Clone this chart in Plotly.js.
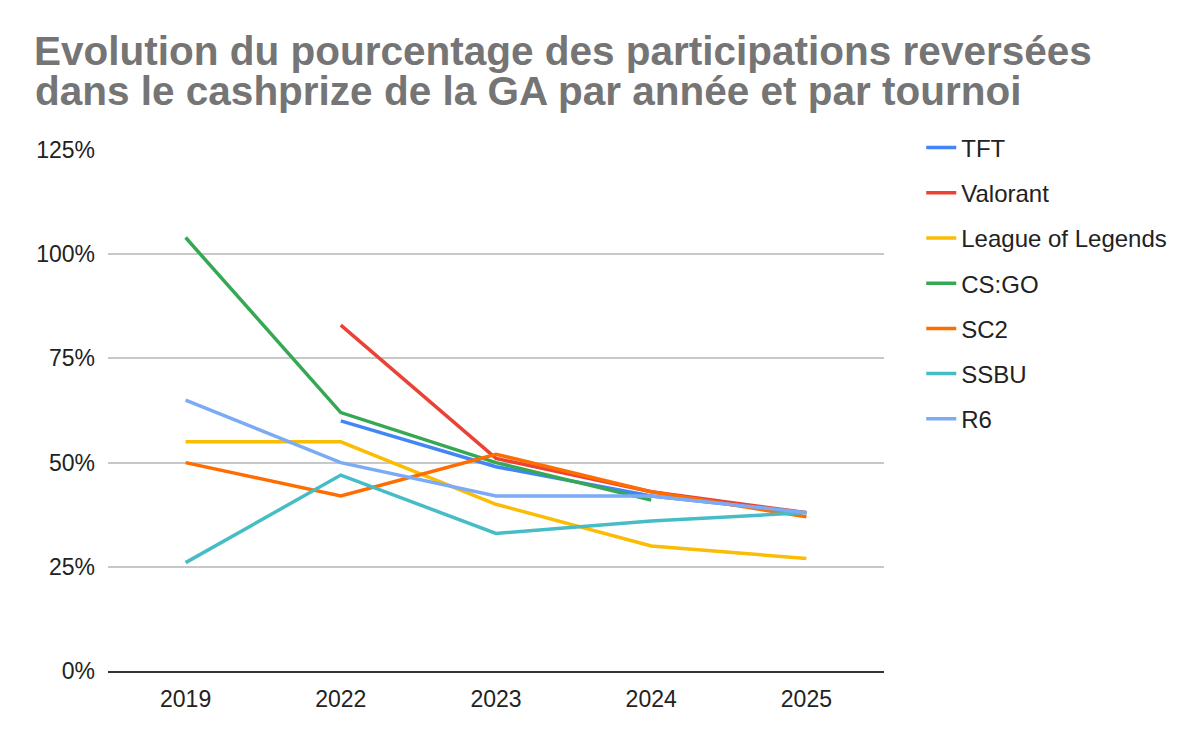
<!DOCTYPE html>
<html>
<head>
<meta charset="utf-8">
<script src="https://cdn.plot.ly/plotly-3.0.1.min.js"></script>
<style>
  html, body { margin: 0; padding: 0; background: #fff; }
  #plot { width: 1200px; height: 734px; }
</style>
</head>
<body>
<div id="plot"></div>
<script>
// Years on the x axis
const years = ["2019", "2022", "2023", "2024", "2025"]

// Percentage of entry fees paid back into the cashprize, per tournament (null = no tournament)
const tft      = [null, 60, 49, 42, 38]
const valorant = [null, 83, 51, 43, 38]
const lol      = [55, 55, 40, 30, 27]
const csgo     = [104, 62, 50, 41, null]
const sc2      = [50, 42, 52, 43, 37]
const ssbu     = [26, 47, 33, 36, 38]
const r6       = [65, 50, 42, 42, 38]

const names  = ["TFT", "Valorant", "League of Legends", "CS:GO", "SC2", "SSBU", "R6"]
const series = [tft, valorant, lol, csgo, sc2, ssbu, r6]
const colors = ["#4285F4", "#EA4335", "#FBBC04", "#34A853", "#FF6D01", "#46BDC6", "#7BAAF7"]

const y_ticks = [0, 25, 50, 75, 100, 125]
const y_tick_labels = ["0%", "25%", "50%", "75%", "100%", "125%"]

const font_family = "Arial, 'Liberation Sans', sans-serif"

let data = []
for (let i = 0; i < series.length; i++) {
    data.push({
        type: "scatter", mode: "lines",
        x: years, y: series[i], name: names[i],
        legendgroup: names[i],
        connectgaps: false,
        line: { color: colors[i], width: 3.5 },
        hoverinfo: "skip"
    })
}

const layout = {
    width: 1200, height: 734,
    paper_bgcolor: "#ffffff", plot_bgcolor: "#ffffff",
    margin: { l: 108, r: 316, t: 150, b: 63 },
    font: { family: font_family, color: "#222222", size: 23 },
    title: {
        text: "Evolution du pourcentage des participations reversées",
        font: { family: font_family, size: 40.5, color: "#757575", weight: "bold" },
        xref: "container", x: 34 / 1200, xanchor: "left",
        yref: "container", y: 1 - 51 / 734, yanchor: "middle"
    },
    annotations: [{
        // second title line, tighter line spacing than plotly's <br>
        text: "dans le cashprize de la GA par année et par tournoi",
        font: { family: font_family, size: 40.5, color: "#757575", weight: "bold" },
        showarrow: false,
        xref: "paper", x: (33 - 108) / 776, xanchor: "left",
        yref: "paper", y: (671 - 91) / 521, yanchor: "middle"
    }],
    xaxis: {
        type: "category",
        range: [-0.5, 4.5],
        showgrid: false, zeroline: false,
        showline: true, linecolor: "#333333", linewidth: 2,
        ticks: "", ticklabelstandoff: 6,
        tickfont: { size: 23, color: "#222222" },
        fixedrange: true
    },
    yaxis: {
        range: [0, 125],
        tickmode: "array",
        tickvals: y_ticks,
        ticktext: y_tick_labels,
        showgrid: true, gridcolor: "#c8c8c8", gridwidth: 2,
        zeroline: false, showline: false,
        ticks: "", ticklabelstandoff: 12,
        tickfont: { size: 23, color: "#222222" },
        fixedrange: true
    },
    showlegend: true,
    legend: {
        x: 1.048, xanchor: "left",
        y: 1.047, yanchor: "top",
        font: { size: 24, color: "#222222" },
        tracegroupgap: 11,
        bgcolor: "rgba(0,0,0,0)"
    }
}

Plotly.newPlot("plot", data, layout, { displayModeBar: false, staticPlot: true })
</script>
</body>
</html>
